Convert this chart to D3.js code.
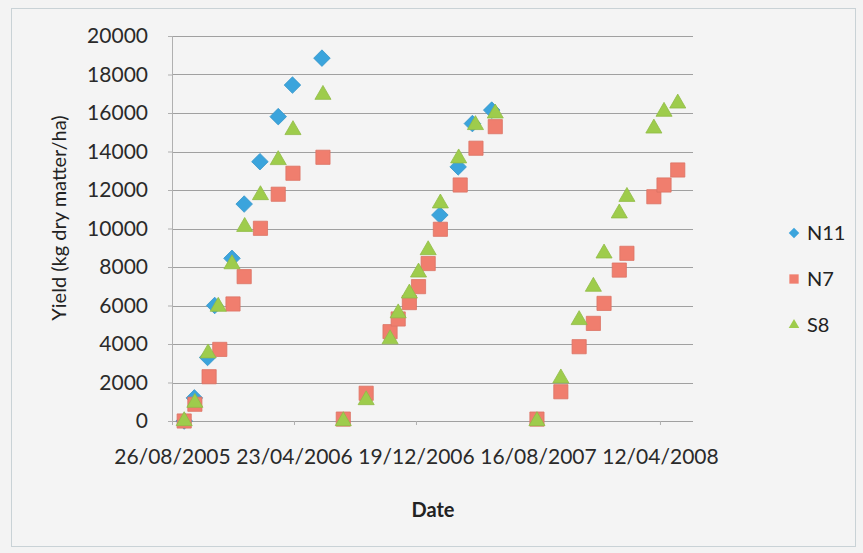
<!DOCTYPE html>
<html>
<head>
<meta charset="utf-8">
<script src="https://cdn.jsdelivr.net/npm/d3@7"></script>
<style>
  html, body { margin: 0; padding: 0; background: #f3f3f3; }
  svg { display: block; }
  text { font-family: Lato, "Open Sans", sans-serif; }
</style>
</head>
<body>
<svg id="chart" width="863" height="553"></svg>
<script>
// ---------- DATA ----------
const seriesNames = ["N11", "N7", "S8"];

const n11Dates = ["2005-09-19","2005-10-09","2005-11-04","2005-11-18","2005-12-22","2006-01-15","2006-02-15","2006-03-23","2006-04-20","2006-06-17",
                  "2007-02-04","2007-03-12","2007-04-09","2007-05-17"];
const n11Values = [0,1200,3300,6000,8450,11270,13470,15810,17450,18850,
                   10700,13200,15450,16150];

const n7Dates = ["2005-09-19","2005-10-10","2005-11-07","2005-11-28","2005-12-24","2006-01-15","2006-02-16","2006-03-23","2006-04-21","2006-06-19",
                 "2006-07-29","2006-09-12","2006-10-29","2006-11-14","2006-12-06","2006-12-24","2007-01-12","2007-02-05","2007-03-16","2007-04-16","2007-05-24",
                 "2007-08-14","2007-09-30","2007-11-05","2007-12-03","2007-12-24","2008-01-23","2008-02-07","2008-03-31","2008-04-20","2008-05-17"];
const n7Values = [0,870,2300,3720,6080,7500,10010,11780,12870,13700,
                  100,1440,4640,5300,6150,6980,8180,9960,12260,14170,15290,
                  100,1520,3860,5070,6110,7840,8710,11650,12260,13040];

const s8Dates = ["2005-09-19","2005-10-10","2005-11-05","2005-11-25","2005-12-22","2006-01-16","2006-02-16","2006-03-23","2006-04-21","2006-06-19",
                 "2006-07-29","2006-09-12","2006-10-29","2006-11-14","2006-12-06","2006-12-24","2007-01-12","2007-02-05","2007-03-13","2007-04-15","2007-05-24",
                 "2007-08-14","2007-09-30","2007-11-05","2007-12-03","2007-12-24","2008-01-23","2008-02-07","2008-03-31","2008-04-20","2008-05-17"];
const s8Values = [0,950,3520,5940,8150,10090,11740,13560,15120,16950,
                  0,1090,4250,5600,6630,7720,8880,11310,13650,15380,15980,
                  0,2220,5250,6980,8710,10790,11650,15200,16070,16500];

const xTickLabels = ["26/08/2005","23/04/2006","19/12/2006","16/08/2007","12/04/2008"];
const xDomain = ["2005-08-26","2008-06-16"];
const yTicks = [0,2000,4000,6000,8000,10000,12000,14000,16000,18000,20000];
const yTitle = "Yield (kg dry matter/ha)";
const xTitle = "Date";

// ---------- STYLE ----------
const colors = {N11: "#3ba4dc", N7: "#f07e6e", S8: "#9ecc4c"};
const parse = d3.utcParse("%Y-%m-%d");
const parseLbl = d3.utcParse("%d/%m/%Y");

const svg = d3.select("#chart");
const plot = {left: 172, right: 693, top: 36, bottom: 421};

// chart area border
svg.append("rect").attr("x", 11.5).attr("y", 8.5).attr("width", 844).attr("height", 538)
  .attr("fill", "#f4f4f4").attr("stroke", "#c9d2d6").attr("stroke-width", 1);

const x = d3.scaleUtc().domain(xDomain.map(parse)).range([plot.left, plot.right]);
const y = d3.scaleLinear().domain([0, 20000]).range([plot.bottom, plot.top]);

// gridlines
svg.append("g").selectAll("line").data(yTicks).join("line")
  .attr("x1", plot.left).attr("x2", plot.right)
  .attr("y1", d => Math.round(y(d)) + 0.5).attr("y2", d => Math.round(y(d)) + 0.5)
  .attr("stroke", "#a0a0a0").attr("stroke-width", 1);

// vertical axis line
svg.append("line").attr("x1", plot.left + 0.5).attr("x2", plot.left + 0.5)
  .attr("y1", plot.top).attr("y2", plot.bottom + 4).attr("stroke", "#b0b0b0");

// y axis labels
const yAxis = d3.axisLeft(y).tickValues(yTicks).tickFormat(d3.format("d")).tickSize(4).tickPadding(20);
const gy = svg.append("g").attr("transform", `translate(${plot.left},0)`).call(yAxis);
gy.select(".domain").remove();
gy.selectAll(".tick line").attr("stroke", "#b0b0b0");
gy.selectAll("text").attr("font-size", 21).attr("fill", "#2a2a2a").attr("font-family", "Lato, sans-serif");

// x axis labels
const xTickDates = xTickLabels.map(parseLbl);
const xAxis = d3.axisBottom(x).tickValues(xTickDates).tickFormat(d3.utcFormat("%d/%m/%Y")).tickSize(4).tickPadding(24);
const gx = svg.append("g").attr("transform", `translate(0,${plot.bottom})`).call(xAxis);
gx.select(".domain").remove();
gx.selectAll(".tick line").attr("stroke", "#b0b0b0");
gx.selectAll("text").attr("font-size", 21).attr("fill", "#2a2a2a").attr("font-family", "Lato, sans-serif");

// axis titles
svg.append("text").attr("transform", "translate(66,218) rotate(-90)")
  .attr("text-anchor", "middle").attr("font-size", 20).attr("fill", "#222").text(yTitle);
svg.append("text").attr("x", 433).attr("y", 517).attr("text-anchor", "middle")
  .attr("font-size", 20).attr("font-weight", "bold").attr("fill", "#222").text(xTitle);

// marker shapes
const shapes = {
  N11: d3.symbol().type(d3.symbolDiamond2).size(175)(),
  N7: d3.symbol().type(d3.symbolSquare2).size(256)(),
  S8: d3.symbol().type(d3.symbolTriangle2).size(185)()
};
const shapeFill = (g, name) => g.attr("d", shapes[name]).attr("fill", colors[name])
  .attr("stroke", d3.color(colors[name]).darker(0.25)).attr("stroke-width", 0.8);

const series = [
  {name: "N11", dates: n11Dates, values: n11Values},
  {name: "N7", dates: n7Dates, values: n7Values},
  {name: "S8", dates: s8Dates, values: s8Values}
];

series.forEach(s => {
  const pts = s.dates.map((d, i) => ({date: parse(d), value: s.values[i]}));
  svg.append("g").selectAll("path").data(pts).join("path")
    .attr("transform", d => `translate(${x(d.date)},${y(d.value)})`)
    .call(g => shapeFill(g, s.name));
});

// legend
const legendY = [233, 279, 325];
series.forEach((s, i) => {
  const g = svg.append("g").attr("transform", `translate(794,${legendY[i]})`);
  const sz = {N11: 70, N7: 110, S8: 80}[s.name];
  const sym = {N11: d3.symbolDiamond2, N7: d3.symbolSquare2, S8: d3.symbolTriangle2}[s.name];
  g.append("path").attr("d", d3.symbol().type(sym).size(sz)()).attr("fill", colors[s.name]);
  g.append("text").attr("x", 13).attr("y", 7).attr("font-size", 20).attr("fill", "#222").text(s.name);
});
</script>
</body>
</html>
